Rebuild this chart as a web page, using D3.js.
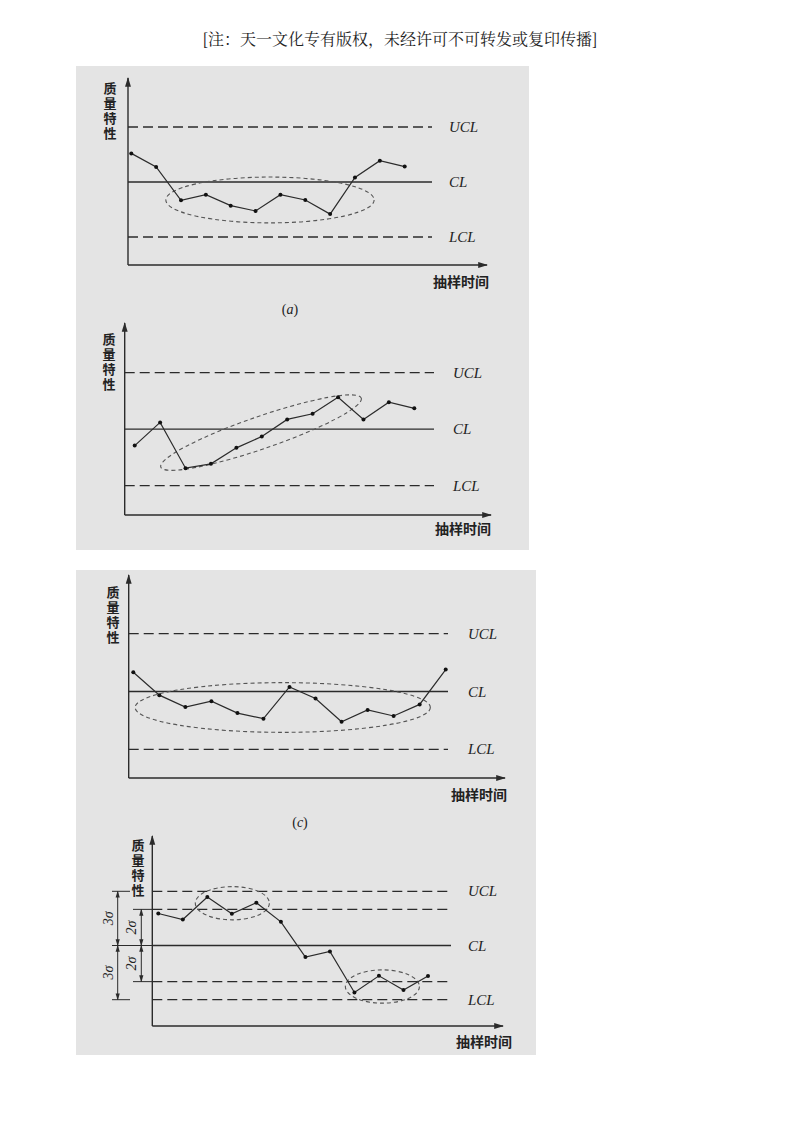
<!DOCTYPE html>
<html><head><meta charset="utf-8">
<script src="https://cdn.jsdelivr.net/npm/d3@7"></script>
<style>body{margin:0;background:#fff}</style>
</head><body>
<svg id="c" width="800" height="1132"></svg>
<script>
// values in sigma units, CL = 0, UCL = +3, LCL = -3
const valuesA = [1.56, 0.82, -1.0, -0.69, -1.29, -1.58, -0.69, -0.98, -1.75, 0.25, 1.16, 0.84];
const valuesB = [-0.87, 0.36, -2.07, -1.84, -0.99, -0.39, 0.52, 0.82, 1.70, 0.52, 1.43, 1.11];
const valuesC = [1.0, -0.19, -0.81, -0.50, -1.12, -1.41, 0.24, -0.36, -1.57, -0.96, -1.27, -0.67, 1.14];
const valuesD = [1.77, 1.44, 2.68, 1.76, 2.37, 1.31, -0.64, -0.33, -2.60, -1.68, -2.47, -1.69];
const limitLabels = ['UCL', 'CL', 'LCL'];
const yLabel = '质量特性';
const xLabel = '抽样时间';
// ellipses: [center index, center value, rx (index units), ry (value units), angle]
const ellipsesA = [[5.58, -0.98, 4.19, 1.25, 0]];
const ellipsesB = [[4.97, -0.18, 4.17, 0.86, -19]];
const ellipsesC = [[5.74, -0.83, 5.67, 1.29, 0]];
const ellipsesD = [[3.02, 2.34, 1.51, 0.92, 0], [9.14, -2.27, 1.51, 0.92, 0]];

const svg = d3.select('#c');
const ink = '#2b2b2b';
const serif = '"Liberation Serif","DejaVu Serif",serif';
const cjk = '"Noto Sans CJK SC",sans-serif';

svg.append('text').attr('x', 400).attr('y', 45).attr('text-anchor', 'middle')
  .attr('font-family', '"Noto Serif CJK SC","Noto Sans CJK SC",serif').attr('font-size', 16).attr('fill', '#222')
  .text('[注：天一文化专有版权，未经许可不可转发或复印传播]');

svg.append('rect').attr('x', 76).attr('y', 66).attr('width', 453).attr('height', 484).attr('fill', '#e4e4e4');
svg.append('rect').attr('x', 76).attr('y', 570).attr('width', 460).attr('height', 485).attr('fill', '#e4e4e4');

const defs = svg.append('defs');
defs.append('marker').attr('id', 'arr').attr('viewBox', '0 0 10 10').attr('refX', 9).attr('refY', 5)
  .attr('markerWidth', 7).attr('markerHeight', 7).attr('orient', 'auto-start-reverse')
  .append('path').attr('d', 'M0,2 L10,5 L0,8 Z').attr('fill', ink);

function panel(o) {
  const g = svg.append('g');
  const x = d3.scaleLinear().domain([0, o.values.length - 1]).range([o.px0, o.px1]);
  const y = d3.scaleLinear().domain([-3, 3]).range([o.yL, o.yU]);
  // axes
  g.append('line').attr('x1', o.ax).attr('x2', o.ax).attr('y1', o.xy).attr('y2', o.top)
    .attr('stroke', ink).attr('stroke-width', 1.4).attr('marker-end', 'url(#arr)');
  g.append('line').attr('x1', o.ax).attr('x2', o.right).attr('y1', o.xy).attr('y2', o.xy)
    .attr('stroke', ink).attr('stroke-width', 1.4).attr('marker-end', 'url(#arr)');
  // limit lines
  o.lines.forEach(v => {
    g.append('line').attr('x1', o.ax).attr('x2', o.dashEnd).attr('y1', y(v)).attr('y2', y(v))
      .attr('stroke', ink).attr('stroke-width', 1.3).attr('stroke-dasharray', v === 0 ? null : '10,5');
  });
  [3, 0, -3].forEach((v, i) => {
    g.append('text').attr('x', o.labX).attr('y', y(v) + 5).attr('font-family', serif)
      .attr('font-style', 'italic').attr('font-size', 15).attr('fill', '#222').text(limitLabels[i]);
  });
  // ellipses
  o.ellipses.forEach(e => {
    const cx = x(e[0]), cy = y(e[1]);
    g.append('ellipse').attr('cx', cx).attr('cy', cy)
      .attr('rx', x(e[2]) - x(0)).attr('ry', y(0) - y(e[3]))
      .attr('transform', `rotate(${e[4]},${cx},${cy})`)
      .attr('fill', 'none').attr('stroke', '#555').attr('stroke-width', 1.1).attr('stroke-dasharray', '4,3');
  });
  // series
  g.append('path').datum(o.values)
    .attr('d', d3.line().x((d, i) => x(i)).y(d => y(d)))
    .attr('fill', 'none').attr('stroke', ink).attr('stroke-width', 1.2);
  g.selectAll('circle').data(o.values).join('circle')
    .attr('cx', (d, i) => x(i)).attr('cy', d => y(d)).attr('r', 2).attr('fill', '#111');
  // labels (vertical y label as one text)
  g.append('text').attr('x', o.ylx).attr('y', o.yly)
    .style('writing-mode', 'vertical-rl').style('letter-spacing', '2px')
    .attr('font-family', cjk).attr('font-weight', 'bold').attr('font-size', 13).attr('fill', '#222').text(yLabel);
  g.append('text').attr('x', o.xlx).attr('y', o.xly).attr('text-anchor', 'middle')
    .attr('font-family', cjk).attr('font-weight', 'bold').attr('font-size', 14).attr('fill', '#222').text(xLabel);
  if (o.caption) {
    g.append('text').attr('x', o.caption[0]).attr('y', o.caption[1]).attr('text-anchor', 'middle')
      .attr('font-family', serif).attr('font-size', 14).attr('fill', '#222')
      .html('(<tspan font-style="italic">' + o.caption[2] + '</tspan>)');
  }
  return {g, y};
}

panel({values: valuesA, ellipses: ellipsesA, px0: 131.3, px1: 404.7, yU: 127, yL: 237,
  ax: 128, top: 78, xy: 265, right: 487, dashEnd: 432, labX: 449, lines: [3, 0, -3],
  ylx: 110, yly: 82, xlx: 461, xly: 287, caption: [290, 314, 'a']});
panel({values: valuesB, ellipses: ellipsesB, px0: 134.7, px1: 414.3, yU: 372.7, yL: 485.7,
  ax: 124.7, top: 323, xy: 515, right: 491, dashEnd: 434, labX: 453, lines: [3, 0, -3],
  ylx: 109, yly: 333, xlx: 463, xly: 534});
panel({values: valuesC, ellipses: ellipsesC, px0: 133.3, px1: 445.7, yU: 633.7, yL: 749.3,
  ax: 128.7, top: 575, xy: 778, right: 505, dashEnd: 448, labX: 468, lines: [3, 0, -3],
  ylx: 113, yly: 586, xlx: 479, xly: 800, caption: [300, 827, 'c']});
const pd = panel({values: valuesD, ellipses: ellipsesD, px0: 158.3, px1: 428, yU: 891.3, yL: 999.7,
  ax: 152.3, top: 836, xy: 1026, right: 503, dashEnd: 451, labX: 468, lines: [3, 2, 0, -2, -3],
  ylx: 138, yly: 839, xlx: 484, xly: 1047});

// sigma brackets on panel d
const y = pd.y, g = pd.g;
const ticks = [[3, 112, 130], [0, 112, 152], [-3, 112, 130], [2, 133, 152], [-2, 133, 152]];
ticks.forEach(t => g.append('line').attr('x1', t[1]).attr('x2', t[2]).attr('y1', y(t[0])).attr('y2', y(t[0]))
  .attr('stroke', ink).attr('stroke-width', 1));
const segs = [[117.7, 3, 0], [117.7, 0, -3], [141.3, 2, 0], [141.3, 0, -2]];
segs.forEach(s => {
  g.append('line').attr('x1', s[0]).attr('x2', s[0]).attr('y1', y(s[1])).attr('y2', y(s[2]))
    .attr('stroke', ink).attr('stroke-width', 1).attr('marker-start', 'url(#arr)').attr('marker-end', 'url(#arr)');
  const my = (y(s[1]) + y(s[2])) / 2;
  g.append('text').attr('transform', `translate(${s[0] - 5},${my}) rotate(-90)`)
    .attr('text-anchor', 'middle').attr('font-family', serif).attr('font-style', 'italic')
    .attr('font-size', 14).attr('fill', '#222')
    .text(Math.abs(s[1] - s[2]) === 3 ? '3σ' : '2σ');
});
</script>
</body></html>
